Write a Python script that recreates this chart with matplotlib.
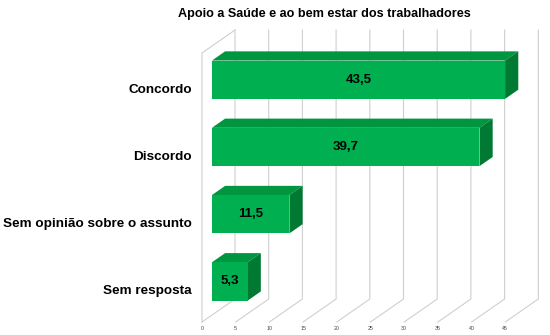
import numpy as np
import matplotlib.pyplot as plt
from matplotlib.patches import Polygon

plt.rcParams['font.family'] = ['Liberation Sans', 'DejaVu Sans']

# data
categorias = ['Sem resposta', 'Sem opinião sobre o assunto', 'Discordo', 'Concordo']
valores = [5.3, 11.5, 39.7, 43.5]
ticks = [0, 5, 10, 15, 20, 25, 30, 35, 40, 45]
titulo = 'Apoio a Saúde e ao bem estar dos trabalhadores'

#-----------------------------------------------------------------------------
# pseudo 3d setup (pixel scale of the front plane)
W, H = 550, 335
x0px, ybot, ytop = 202, 322, 53
pxu = 6.74                      # px per value unit
pyu = (ybot - ytop) / 4.0       # px per category
DX, DY = 33 / pxu, 23 / pyu     # full depth offset in data units
f0, f1 = 0.3, 0.7               # bar depth (front/back fraction)
bh = 0.285                      # half bar height

fig = plt.figure(figsize=(W / 100, H / 100), dpi=100)
ax = fig.add_axes([0, 0, 1, 1])
ax.set_xlim(-x0px / pxu, (W - x0px) / pxu)
ax.set_ylim(-0.5 - (H - ybot) / pyu, -0.5 + ybot / pyu)
ax.axis('off')

def P(x, y, d):
    return (x + d * DX, y + d * DY)

ymin, ymax = -0.5, len(categorias) - 0.5
gc = '#cfcfcf'

# left wall edges
ax.plot(*zip(P(0, ymin, 0), P(0, ymax, 0), P(0, ymax, 1)), color=gc, lw=0.8, zorder=1)
# gridlines on back wall and floor
for t in ticks:
    ax.plot(*zip(P(t, ymin, 0), P(t, ymin, 1), P(t, ymax, 1)), color=gc, lw=0.8, zorder=1)
    ax.text(t, ymin - 0.06, str(t), fontsize=3.8, color='#444444',
            ha='center', va='top')

front, top, side = '#00b050', '#00963f', '#007a33'
for i, (c, v) in enumerate(zip(categorias, valores)):
    yb, yt = i - bh, i + bh
    ax.add_patch(Polygon([P(0, yt, f0), P(v, yt, f0), P(v, yt, f1), P(0, yt, f1)],
                         closed=True, fc=top, ec='none', zorder=3))
    ax.add_patch(Polygon([P(v, yb, f0), P(v, yb, f1), P(v, yt, f1), P(v, yt, f0)],
                         closed=True, fc=side, ec='none', zorder=3))
    ax.add_patch(Polygon([P(0, yb, f0), P(v, yb, f0), P(v, yt, f0), P(0, yt, f0)],
                         closed=True, fc=front, ec='none', zorder=3))
    cx, cy = P(v / 2, i, f0)
    ax.text(cx, cy, f'{v:.1f}'.replace('.', ','), fontsize=9.5, fontweight='bold',
            ha='center', va='center', zorder=4)
    ax.text(-10 / pxu, i - 0.045, c, fontsize=9.7, fontweight='bold',
            ha='right', va='center')

fig.text(324 / W, 1 - 14 / H, titulo, fontsize=9.1, fontweight='bold',
         ha='center', va='center')

fig.savefig('out.png', dpi=100)
